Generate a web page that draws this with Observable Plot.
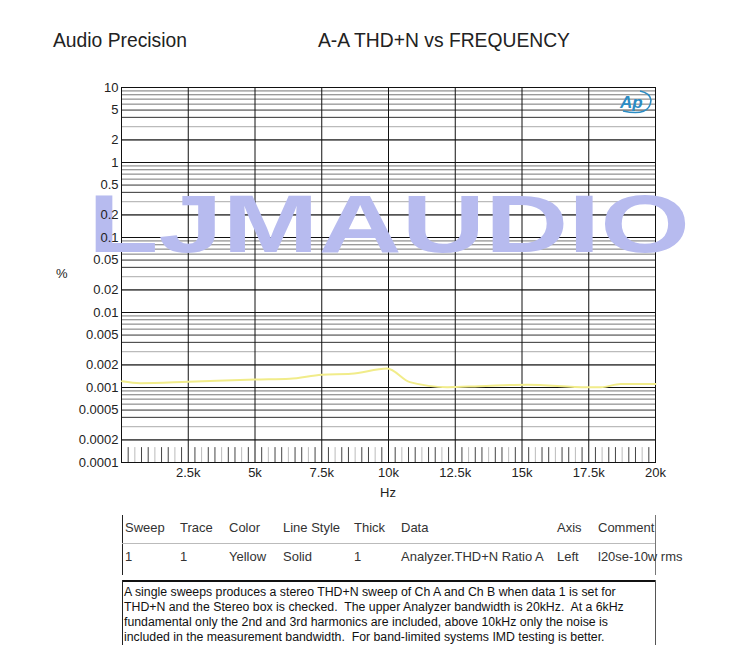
<!DOCTYPE html>
<html>
<head>
<meta charset="utf-8">
<script src="https://cdn.jsdelivr.net/npm/d3@7"></script>
<script src="https://cdn.jsdelivr.net/npm/@observablehq/plot@0.6"></script>
<style>
  html, body { margin: 0; padding: 0; background: #fff; }
  #page { position: relative; width: 750px; height: 645px; overflow: hidden; font-family: "Liberation Sans", Arial, sans-serif; color: #222; }
  .abs { position: absolute; white-space: pre; }
  #chart { position: absolute; left: 0; top: 0; }
  .tbl { font-size: 13px; color: #333; }
  .desc { font-size: 12.3px; color: #111; line-height: 15px; }
</style>
</head>
<body>
<div id="page">
  <div id="chart"></div>
  <div class="abs" style="left:53px; top:30px; font-size:19.3px;">Audio Precision</div>
  <div class="abs" style="left:318px; top:30px; font-size:19.3px;">A-A THD+N vs FREQUENCY</div>
  <div class="abs" style="left:56px; top:266px; font-size:13px;">%</div>
  <div class="abs" style="left:380px; top:485px; font-size:13px;">Hz</div>
  <div id="table"></div>
</div>
<script>
// ---- data ----
const freqs = [20, 700, 2500, 5000, 6300, 7500, 8600, 9950, 10800, 12200, 13400, 15200, 17450, 17950, 18700, 20000];
const thdn  = [0.00121, 0.00114, 0.00119, 0.00128, 0.00131, 0.00148, 0.00152, 0.00179, 0.00118, 0.00101, 0.00104, 0.00109, 0.00101, 0.00101, 0.00111, 0.00111];

const yTicks = [10, 5, 2, 1, 0.5, 0.2, 0.1, 0.05, 0.02, 0.01, 0.005, 0.002, 0.001, 0.0005, 0.0002, 0.0001];
const yTickLabels = ["10", "5", "2", "1", "0.5", "0.2", "0.1", "0.05", "0.02", "0.01", "0.005", "0.002", "0.001", "0.0005", "0.0002", "0.0001"];
const xTicks = [2500, 5000, 7500, 10000, 12500, 15000, 17500, 20000];
const xTickLabels = ["2.5k", "5k", "7.5k", "10k", "12.5k", "15k", "17.5k", "20k"];
const xGrid = [2500, 5000, 7500, 10000, 12500, 15000, 17500];
const decades = [0.0001, 0.001, 0.01, 0.1, 1];
const digits = [1, 2, 3, 4, 5, 6, 7, 8, 9];
const xMinorStep = 250;

const tableHeader = ["Sweep", "Trace", "Color", "Line Style", "Thick", "Data", "Axis", "Comment"];
const tableRow = ["1", "1", "Yellow", "Solid", "1", "Analyzer.THD+N Ratio A", "Left", "l20se-10w rms"];
const description = [
  "A single sweeps produces a stereo THD+N sweep of Ch A and Ch B when data 1 is set for",
  "THD+N and the Stereo box is checked.  The upper Analyzer bandwidth is 20kHz.  At a 6kHz",
  "fundamental only the 2nd and 3rd harmonics are included, above 10kHz only the noise is",
  "included in the measurement bandwidth.  For band-limited systems IMD testing is better."
];
const watermark = "LJMAUDIO";

// ---- derived tables ----
const data = freqs.map((f, i) => ({f, v: thdn[i]}));
const yLab = yTicks.map((v, i) => ({v, s: yTickLabels[i]}));
const xLab = xTicks.map((f, i) => ({f, s: xTickLabels[i]}));
const yGrid = [];
decades.forEach(d => digits.forEach(k => { const v = +(d * k).toPrecision(3); if (v > 0.0001) yGrid.push({v, k}); }));
yGrid.push({v: 10, k: 1});
const xMinor = [];
for (let f = xMinorStep; f < 20000; f += xMinorStep) if (f % 2500 !== 0) xMinor.push(f);

const shade = k => k === 1 ? "#111" : k === 2 ? "#555" : k === 3 ? "#aaa" : (k === 4 || k === 5) ? "#333" : "#777";

const chart = Plot.plot({
  width: 750,
  height: 510,
  marginLeft: 121,
  marginRight: 95,
  marginTop: 87,
  marginBottom: 48,
  style: {fontFamily: "'Liberation Sans', Arial, sans-serif", fontSize: "13px", color: "#222", background: "transparent"},
  x: {type: "linear", domain: [0, 20000], axis: null},
  y: {type: "log", domain: [0.0001, 10], axis: null},
  marks: [
    Plot.ruleY(yGrid, {y: "v", stroke: d => shade(d.k), strokeWidth: d => d.k === 2 ? 1.6 : 1}),
    Plot.ruleX(xGrid, {stroke: "#111", strokeWidth: 1}),
    Plot.ruleX(xMinor, {x: d => d, y1: 0.0001, y2: 0.000158, stroke: (d, i) => (i % 3 === 1 ? "#bbb" : "#444"), strokeWidth: 1}),
    Plot.frame({stroke: "#111", strokeWidth: 1}),
    Plot.line(data, {x: "f", y: "v", stroke: "#f1ec8a", strokeWidth: 2, curve: "monotone-x"}),
    Plot.text(yLab, {y: "v", text: "s", frameAnchor: "left", textAnchor: "end", dx: -3, fill: "#222", fontSize: 13}),
    Plot.text(xLab, {x: "f", text: "s", frameAnchor: "bottom", lineAnchor: "top", dy: 5, fill: "#222", fontSize: 13})
  ]
});
document.getElementById("chart").appendChild(chart);

// watermark and logo (decorations)
const svg = d3.select(chart);
svg.insert("text", "g[aria-label=line]")
  .attr("x", 88).attr("y", 252)
  .attr("text-anchor", "start")
  .attr("textLength", 602).attr("lengthAdjust", "spacingAndGlyphs")
  .attr("font-family", "'Liberation Sans', Arial, sans-serif")
  .attr("font-weight", "bold").attr("font-size", 82)
  .attr("fill", "#b7bbef")
  .text(watermark);
const logo = svg.append("g");
logo.append("path").attr("d", "M 623 111 Q 650 117 651 100 Q 650 93 640 91").attr("fill", "none").attr("stroke", "#2b8cc4").attr("stroke-width", 1.6);
logo.append("text").attr("x", 620).attr("y", 108).attr("text-anchor", "start").attr("font-family", "'Liberation Sans', Arial, sans-serif")
  .attr("font-style", "italic").attr("font-weight", "bold").attr("font-size", 17).attr("fill", "#2b8cc4").text("Ap");

// ---- table and description ----
const colX = [125, 180, 229, 283, 354, 401, 557, 598];
const t = d3.select("#table");
t.append("div").attr("class", "abs").style("left", "122px").style("top", "515px").style("width", "1px").style("height", "60px").style("background", "#222");
t.append("div").attr("class", "abs").style("left", "655px").style("top", "515px").style("width", "1px").style("height", "60px").style("background", "#777");
t.append("div").attr("class", "abs").style("left", "122px").style("top", "543px").style("width", "533px").style("height", "1px").style("background", "#bbb");
tableHeader.forEach((h, i) => t.append("div").attr("class", "abs tbl").style("left", colX[i] + "px").style("top", "520px").text(h));
tableRow.forEach((h, i) => t.append("div").attr("class", "abs tbl").style("left", colX[i] + "px").style("top", "549px").text(h));
t.append("div").attr("class", "abs").style("left", "122px").style("top", "580px").style("width", "534px").style("height", "2px").style("background", "#111");
t.append("div").attr("class", "abs").style("left", "122px").style("top", "580px").style("width", "1px").style("height", "70px").style("background", "#222");
t.append("div").attr("class", "abs").style("left", "655px").style("top", "580px").style("width", "1px").style("height", "70px").style("background", "#555");
description.forEach((line, i) => t.append("div").attr("class", "abs desc").style("left", "124px").style("top", (585 + i * 15) + "px").text(line));
</script>
</body>
</html>
